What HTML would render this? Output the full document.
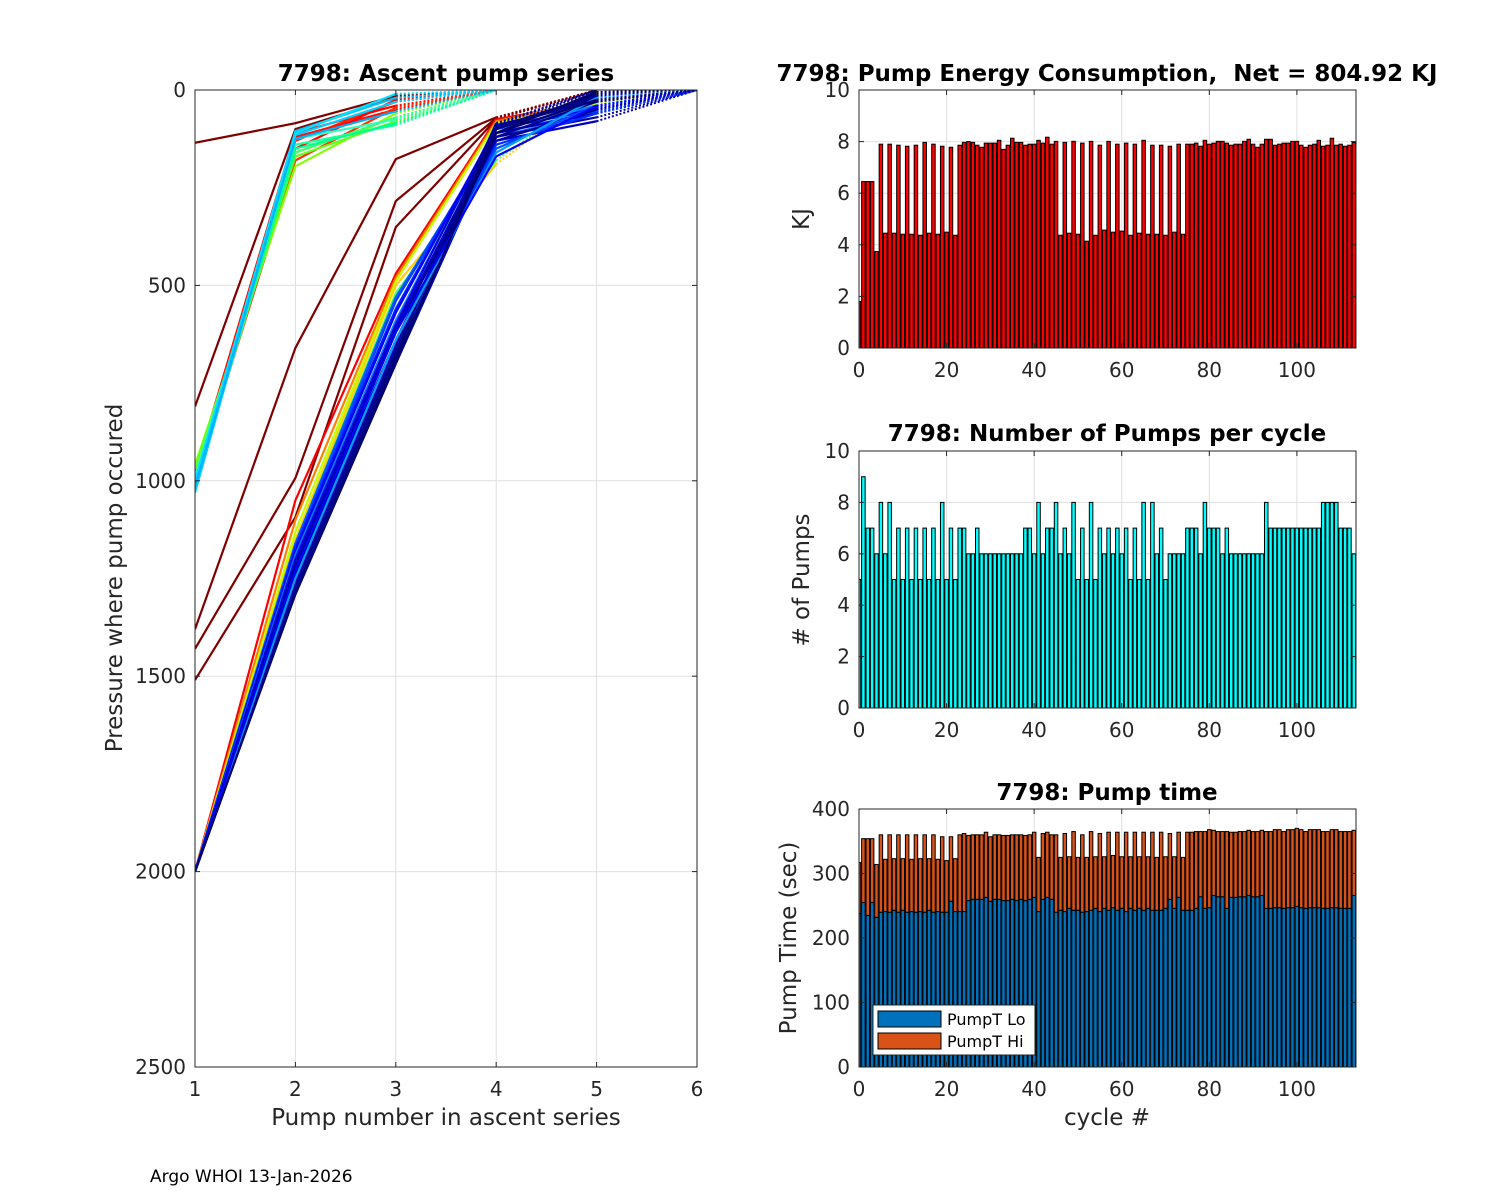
<!DOCTYPE html>
<html><head><meta charset="utf-8">
<style>
html,body{margin:0;padding:0;background:#fff;}
svg{display:block;font-family:"DejaVu Sans","Liberation Sans",sans-serif;}
</style></head>
<body>
<svg id="fig" width="1500" height="1200" viewBox="0 0 1500 1200">
<rect width="1500" height="1200" fill="#fff"/>
<text x="150" y="1182" font-size="17" fill="#000">Argo WHOI 13-Jan-2026</text>
</svg>
<script>
// ---------- DATA ----------
const energyCycles = Array.from({length:114},(_,i)=>i);
const energyKJ = [1.8,6.45,6.45,6.45,3.74,7.9,4.45,7.9,4.45,7.86,4.41,7.82,4.41,7.86,4.37,7.97,4.45,7.9,4.41,7.82,4.49,7.78,4.37,7.86,7.97,8.0,7.97,7.86,7.78,7.94,7.94,7.94,8.05,7.7,7.86,8.13,7.97,7.97,7.86,7.9,7.9,8.05,7.94,8.17,7.9,8.01,4.37,7.97,4.45,8.01,4.41,7.94,4.14,8.01,4.37,7.86,4.57,8.01,4.49,7.9,4.53,7.94,4.37,7.9,4.45,8.05,4.41,7.86,4.41,7.86,4.37,7.82,4.49,7.9,4.41,7.9,7.9,7.94,7.82,8.05,7.9,7.94,8.01,8.01,7.94,7.86,7.9,7.9,8.01,8.09,7.9,7.78,7.9,8.09,8.09,7.86,7.9,7.94,7.94,8.01,8.01,7.86,7.78,7.86,7.9,8.05,7.82,7.86,8.13,7.86,7.9,7.82,7.86,7.97];
const pumpCounts = [5,9,7,7,6,8,6,8,5,7,5,7,5,7,5,7,5,7,5,8,5,7,5,7,7,6,6,7,6,6,6,6,6,6,6,6,6,6,7,7,6,8,6,7,7,8,6,7,6,8,5,7,5,8,5,7,6,7,6,7,6,7,5,7,5,8,5,8,6,7,5,6,6,6,6,7,7,7,6,8,7,7,7,6,7,6,6,6,6,6,6,6,6,8,7,7,7,7,7,7,7,7,7,7,7,7,8,8,8,8,7,7,7,6];
const pumpTLo = [238,255,235,255,232,240,241,240,243,240,243,240,241,240,241,240,243,240,241,240,240,257,241,241,241,258,260,260,260,263,257,260,260,258,258,260,258,260,258,260,263,241,260,263,260,240,243,241,246,243,243,240,241,243,246,241,246,243,247,243,246,241,246,243,246,243,246,243,243,243,246,260,246,263,243,243,243,246,264,246,247,266,264,264,246,263,263,264,264,266,264,264,266,246,246,247,247,246,247,247,249,247,246,247,247,247,246,246,247,247,246,246,246,266];
const pumpTTotal = [317,354,354,354,314,360,322,360,323,360,323,360,322,360,323,360,323,360,322,357,320,357,323,360,362,359,360,360,360,364,357,360,360,359,359,360,360,360,359,360,364,325,362,364,360,360,325,362,326,365,325,360,325,365,326,362,326,364,328,364,326,364,326,364,326,364,326,364,325,364,326,362,326,364,325,364,364,365,365,365,368,367,365,365,365,364,364,365,365,367,365,365,367,365,365,368,368,365,368,368,370,368,365,368,368,368,365,365,368,368,365,365,365,367];
// ascent profiles: pressures at pump 1..n; color
const profPress = [
 [135,85,15,0],[810,100,20,0],[1380,660,177,70,0],[1430,993,284,72,0],[1510,1093,351,75,0],
 [980,110,40,0],[990,130,30,0],[975,120,50,0],[985,150,25,0],[1000,180,45,0],
 [960,195,60,0],[970,170,80,0],[1010,160,70,0],[995,140,90,0],[1005,150,85,0],[990,125,75,0],
 [1020,105,20,0],[1030,115,30,0],[1000,110,10,0],[1015,125,55,0],
 [2000,1050,470,75,30,0],[2000,1100,480,80,25,0],[2000,1130,490,85,35,0],[2000,1150,500,190,0],[2000,1160,520,180,0],
 [2000,1160,530,120,60,0],[2000,1170,540,110,55,0],[2000,1170,560,100,50,0],[2000,1180,570,95,45,0],[2000,1190,590,100,40,0],
 [2000,1200,600,90,30,0],[2000,1210,610,110,60,0],[2000,1220,620,120,70,0],[2000,1230,640,130,50,0],[2000,1240,650,100,20,0],
 [2000,1250,660,95,15,0],[2000,1260,670,100,10,0],[2000,1270,680,110,5,0],[2000,1280,690,120,30,0],[2000,1290,700,130,80,0],
 [2000,1260,650,140,60,0],[2000,1270,660,150,40,0],[2000,1285,690,100,0],[2000,1275,670,90,0],[2000,1265,655,85,0],
 [2000,1250,640,160,20,0],[2000,1230,620,170,40,0],[2000,1290,700,110,25,0]
];
const profColor = ['#800000','#800000','#800000','#800000','#800000',
 '#ff0000','#ff2000','#ff1000','#ff0000','#ff3000',
 '#80ff00','#60ff20','#40ff60','#20ffa0','#00ff90','#30ffc0',
 '#00c0ff','#00d0ff','#00e0ff','#00b0ff',
 '#ff0000','#ff8000','#c0ff00','#ffd000','#40ff60',
 '#0060ff','#0040ff','#0020ff','#0000ff','#0080ff',
 '#0000e0','#0000c0','#0000a0','#000090','#00008f',
 '#00008f','#000080','#000070','#00008f','#0000c0',
 '#0030ff','#0050ff','#000080','#00008f','#0000a0',
 '#00a0ff','#0000ff','#000070'];

// ---------- HELPERS ----------
const NS='http://www.w3.org/2000/svg';
const svg=document.getElementById('fig');
function mk(tag,attrs,parent){const e=document.createElementNS(NS,tag);for(const k in attrs)e.setAttribute(k,attrs[k]);(parent||svg).appendChild(e);return e;}
function txt(s,x,y,size,anchor,weight,parent){const t=mk('text',{x:x,y:y,'font-size':size,'text-anchor':anchor||'middle','font-weight':weight||'normal',fill:'#262626'},parent);t.textContent=s;return t;}

function axes(name,x0,y0,x1,y1,xmin,xmax,ymin,ymax,xticks,yticks,flipY,xTickLabels){
  const g=mk('g',{});
  
  
  const sx=v=>x0+(v-xmin)/(xmax-xmin)*(x1-x0);
  const sy=flipY?(v=>y0+(v-ymin)/(ymax-ymin)*(y1-y0)):(v=>y1-(v-ymin)/(ymax-ymin)*(y1-y0));
  const grid=mk('g',{},g);
  
  
  xticks.forEach(v=>mk('line',{x1:sx(v),x2:sx(v),y1:y0,y2:y1,stroke:'#dfdfdf','stroke-width':1},grid));
  yticks.forEach(v=>mk('line',{x1:x0,x2:x1,y1:sy(v),y2:sy(v),stroke:'#dfdfdf','stroke-width':1},grid));
  const plot=mk('g',{},g);
  
  
  return {g,plot,sx,sy,x0,y0,x1,y1,xticks,yticks,xTickLabels};
}
function frame(a){
  const g=a.g;
  mk('rect',{x:a.x0,y:a.y0,width:a.x1-a.x0,height:a.y1-a.y0,fill:'none',stroke:'#262626','stroke-width':1},g);
  a.xticks.forEach((v,i)=>{const x=a.sx(v);
    mk('line',{x1:x,x2:x,y1:a.y1,y2:a.y1-5,stroke:'#262626'},g);
    mk('line',{x1:x,x2:x,y1:a.y0,y2:a.y0+5,stroke:'#262626'},g);
    const t=txt(a.xTickLabels?a.xTickLabels[i]:String(v),x,a.y1+29,20,'middle','normal',g);
    
    
  });
  a.yticks.forEach(v=>{const y=a.sy(v);
    mk('line',{x1:a.x0,x2:a.x0+5,y1:y,y2:y,stroke:'#262626'},g);
    mk('line',{x1:a.x1,x2:a.x1-5,y1:y,y2:y,stroke:'#262626'},g);
    const t=txt(String(v),a.x0-9,y+7,20,'end','normal',g);
    
    
  });
}
function clip(a,id){const cp=mk('clipPath',{id:id});mk('rect',{x:a.x0,y:a.y0,width:a.x1-a.x0,height:a.y1-a.y0},cp);a.plot.setAttribute('clip-path','url(#'+id+')');}

// ---------- LEFT: Ascent pump series ----------
const L=axes('ascent-pump-axes',195,90,697,1067,1,6,0,2500,[1,2,3,4,5,6],[0,500,1000,1500,2000,2500],true);
clip(L,'clipL');
profPress.forEach((pp,k)=>{
  const col=profColor[k];
  const pts=pp.map((p,i)=>[L.sx(i+1),L.sy(p)]);
  const solid=pts.slice(0,pts.length-1);
  const pl=mk('polyline',{points:solid.map(p=>p.join(',')).join(' '),fill:'none',stroke:col,'stroke-width':2.2},L.plot);
  
  
  const a=pts[pts.length-2],b=pts[pts.length-1];
  const dl=mk('line',{x1:a[0],y1:a[1],x2:b[0],y2:b[1],stroke:col,'stroke-width':2,'stroke-dasharray':'2,2'},L.plot);
  
  
});
frame(L);
let t=txt('7798: Ascent pump series',446,81,23,'middle','bold');t.setAttribute('fill','#000');


t=txt('Pump number in ascent series',446,1125,23);


t=txt('Pressure where pump occured',0,0,23);t.setAttribute('transform','translate(122,578) rotate(-90)');



// ---------- RIGHT charts ----------
const XMAX=113.5;
function barChart(name,y0,y1,ymax,yticks,vals,color){
  const a=axes(name,859,y0,1356,y1,0,XMAX,0,ymax,[0,20,40,60,80,100],yticks,false);
  clip(a,'clip'+name);
  const w=4.38*0.8;
  vals.forEach((v,i)=>{const x=a.sx(energyCycles[i]);
    const r=mk('rect',{x:x-w/2,y:a.sy(v),width:w,height:a.sy(0)-a.sy(v),fill:color,stroke:'#000','stroke-width':1},a.plot);
    
    
  });
  frame(a);return a;
}
const E=barChart('energy-axes',90,348,10,[0,2,4,6,8,10],energyKJ,'#ff0000');
t=txt('7798: Pump Energy Consumption,  Net = 804.92 KJ',1107,81,23,'middle','bold');t.setAttribute('fill','#000');
t.style.whiteSpace='pre';


t=txt('KJ',0,0,23);t.setAttribute('transform','translate(809,219) rotate(-90)');



const P=barChart('pumps-axes',451,708,10,[0,2,4,6,8,10],pumpCounts,'#00ffff');
t=txt('7798: Number of Pumps per cycle',1107,441,23,'middle','bold');t.setAttribute('fill','#000');


t=txt('# of Pumps',0,0,23);t.setAttribute('transform','translate(809,580) rotate(-90)');



// stacked
const T=axes('pump-time-axes',859,809,1356,1067,0,XMAX,0,400,[0,20,40,60,80,100],[0,100,200,300,400],false);
clip(T,'clipT');
const bw=4.38*0.8;
pumpTLo.forEach((lo,i)=>{const x=T.sx(energyCycles[i]);const tot=pumpTTotal[i];
  const r1=mk('rect',{x:x-bw/2,y:T.sy(lo),width:bw,height:T.sy(0)-T.sy(lo),fill:'#0072bd',stroke:'#000','stroke-width':1},T.plot);
  
  
  const r2=mk('rect',{x:x-bw/2,y:T.sy(tot),width:bw,height:T.sy(lo)-T.sy(tot),fill:'#d95319',stroke:'#000','stroke-width':1},T.plot);
  
  
});
frame(T);
t=txt('7798: Pump time',1107,800,23,'middle','bold');t.setAttribute('fill','#000');


t=txt('Pump Time (sec)',0,0,23);t.setAttribute('transform','translate(796,938) rotate(-90)');


t=txt('cycle #',1107,1125,23);


// legend
const lg=mk('g',{});


mk('rect',{x:873,y:1005,width:162,height:50,fill:'#fff',stroke:'#262626','stroke-width':1},lg);
mk('rect',{x:878,y:1011,width:63,height:16,fill:'#0072bd',stroke:'#000'},lg);
mk('rect',{x:878,y:1033,width:63,height:16,fill:'#d95319',stroke:'#000'},lg);
t=txt('PumpT Lo',947,1025,16,'start','normal',lg);t.setAttribute('fill','#000');


t=txt('PumpT Hi',947,1047,16,'start','normal',lg);t.setAttribute('fill','#000');


</script>
</body></html>
